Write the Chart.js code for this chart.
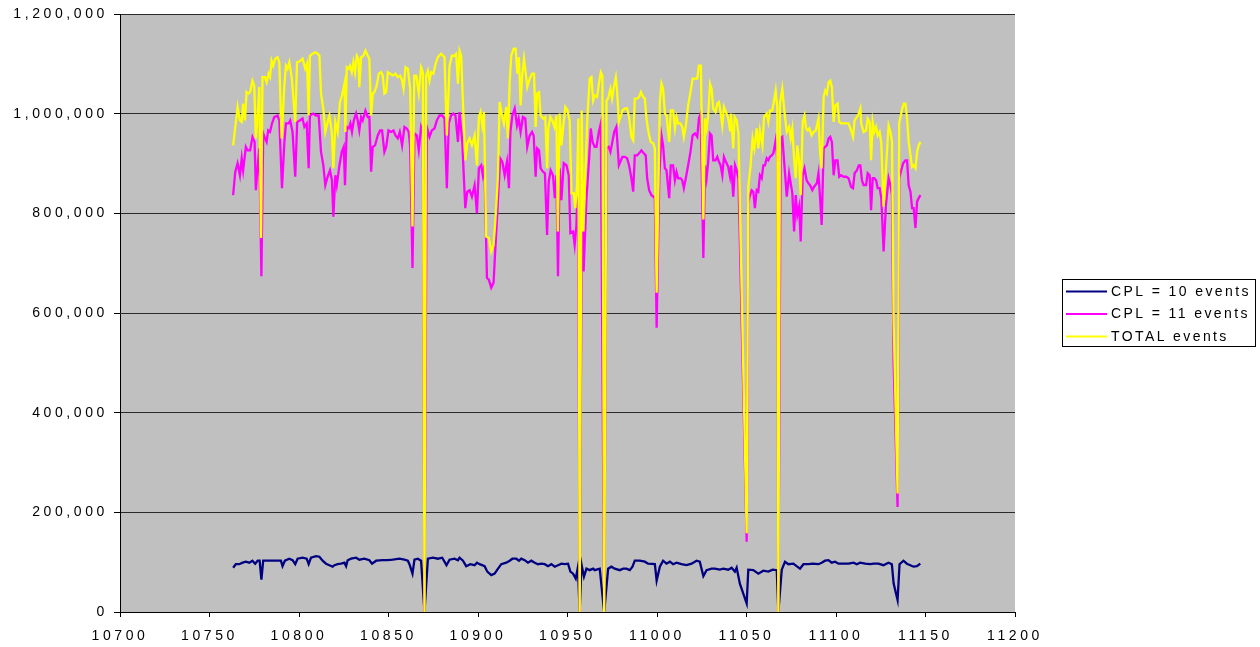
<!DOCTYPE html>
<html><head><meta charset="utf-8">
<script src="https://cdn.jsdelivr.net/npm/chart.js@4/dist/chart.umd.min.js"></script>
<style>html,body{margin:0;padding:0;background:#fff;overflow:hidden}#wrap{width:1260px;height:647px;position:relative}</style>
</head><body><div id="wrap"><canvas id="c" width="1260" height="647"></canvas></div>
<script>
const seriesLabels = ['CPL = 10 events', 'CPL = 11 events', 'TOTAL events'];
const seriesColors = ['#000080', '#FF00FF', '#FFFF00'];
const xTickValues = [10700, 10750, 10800, 10850, 10900, 10950, 11000, 11050, 11100, 11150, 11200];
const yTickValues = [0, 200000, 400000, 600000, 800000, 1000000, 1200000];

const totalDays = [10763.2,10765.1,10765.7,10767.0,10768.0,10768.8,10769.8,10770.7,10771.8,10772.7,
10774.0,10775.0,10775.9,10777.0,10777.8,10778.8,10779.6,10781.0,10781.9,10783.0,
10783.8,10784.7,10785.6,10786.7,10788.0,10789.0,10790.3,10791.8,10792.7,10793.6,
10794.6,10796.0,10797.9,10798.9,10800.2,10802.0,10803.5,10804.5,10805.4,10806.1,
10807.6,10809.1,10810.4,10811.4,10812.3,10813.6,10814.7,10816.0,10817.0,10818.3,
10819.2,10820.3,10821.6,10822.9,10824.0,10825.4,10825.9,10826.7,10827.8,10828.5,
10829.5,10830.4,10831.3,10832.3,10833.2,10833.7,10834.7,10836.0,10837.1,10838.4,
10839.3,10840.3,10841.2,10842.1,10843.4,10844.6,10845.9,10846.8,10847.7,10848.7,
10849.6,10850.9,10852.4,10853.9,10855.2,10856.5,10857.6,10858.4,10859.5,10860.8,
10862.1,10863.4,10864.4,10865.5,10866.9,10868.2,10869.2,10870.1,10871.0,10872.0,
10872.9,10873.8,10875.1,10876.3,10877.6,10879.4,10881.3,10882.6,10884.1,10885.4,
10886.9,10887.8,10888.8,10889.7,10890.6,10891.5,10892.9,10894.0,10895.3,10896.6,
10898.1,10899.4,10900.5,10901.4,10902.4,10903.3,10904.6,10906.1,10907.4,10908.7,
10909.8,10911.1,10912.1,10913.4,10914.5,10915.8,10916.7,10917.7,10918.6,10919.9,
10921.0,10922.0,10922.9,10923.8,10924.7,10925.7,10926.6,10927.5,10928.9,10930.2,
10931.3,10932.2,10933.0,10934.1,10935.0,10936.3,10937.6,10938.6,10939.3,10940.4,
10941.5,10942.7,10943.8,10944.6,10945.6,10946.6,10947.5,10948.8,10950.0,10951.2,
10952.2,10953.5,10954.4,10955.3,10956.1,10956.8,10957.9,10958.9,10960.0,10961.1,
10962.4,10963.4,10964.3,10965.2,10966.5,10967.7,10968.6,10969.5,10970.5,10971.8,
10972.7,10974.0,10974.9,10975.9,10977.0,10977.7,10978.7,10980.7,10982.0,10983.3,
10984.4,10985.7,10986.7,10987.6,10988.9,10990.0,10991.0,10992.3,10993.2,10994.1,
10995.4,10996.5,10997.9,10998.8,10999.8,11001.6,11002.5,11003.4,11004.4,11005.3,
11006.8,11007.7,11009.0,11010.0,11010.9,11011.8,11013.1,11014.1,11015.0,11016.1,
11017.4,11018.7,11019.9,11021.2,11022.5,11023.4,11024.5,11025.9,11026.8,11027.7,
11028.6,11029.6,11030.5,11031.4,11032.7,11033.7,11034.6,11035.5,11036.5,11037.4,
11038.5,11039.8,11040.8,11041.3,11042.6,11043.4,11044.5,11045.5,11050.1,11051.0,
11052.3,11053.4,11054.4,11055.7,11056.6,11057.5,11058.9,11059.8,11061.3,11062.2,
11063.1,11064.4,11065.4,11066.3,11067.2,11067.8,11068.7,11070.0,11071.2,11072.5,
11073.8,11074.7,11075.6,11076.6,11077.5,11078.4,11079.4,11080.3,11081.4,11082.4,
11083.3,11084.2,11085.1,11086.4,11087.4,11088.7,11090.2,11091.1,11092.0,11093.1,
11094.0,11094.9,11095.9,11096.8,11097.7,11098.7,11099.6,11100.9,11101.8,11102.8,
11104.3,11105.7,11107.0,11108.4,11109.5,11110.4,11111.7,11112.7,11113.6,11114.1,
11115.4,11116.8,11117.7,11118.8,11119.6,11120.5,11121.4,11122.4,11123.3,11124.4,
11125.3,11126.6,11129.4,11130.4,11131.3,11132.2,11134.4,11135.3,11137.0,11137.9,
11138.8,11139.7,11140.6,11141.6,11142.5,11143.4,11144.4,11145.3,11146.2,11147.2];
const totalEvents = [937000,994000,1014000,987000,984000,1021000,987000,1044000,1041000,1044000,
1067000,1057000,951000,1004000,1054000,751000,1074000,1074000,1064000,1081000,
1074000,1107000,1097000,1111000,1114000,1104000,951000,1057000,1097000,1091000,
1104000,1071000,984000,1104000,1105000,1111000,1091000,1101000,997000,1117000,
1121000,1124000,1121000,1117000,1041000,1011000,964000,984000,997000,964000,
891000,984000,964000,1024000,1037000,1061000,964000,1094000,1091000,1097000,
1084000,1104000,1084000,1117000,1111000,1054000,1114000,1117000,1127000,1117000,
1111000,997000,1041000,1044000,1057000,1081000,1084000,1077000,1041000,1044000,
1084000,1081000,1077000,1081000,1074000,1077000,1067000,1051000,1094000,1091000,
1051000,774000,1077000,1077000,1041000,1094000,1084000,0,1077000,1087000,
1067000,1084000,1081000,1101000,1114000,1121000,1114000,957000,1097000,1117000,
1117000,1121000,1061000,1127000,1117000,1031000,907000,941000,951000,937000,
957000,897000,994000,1004000,977000,1004000,754000,751000,724000,737000,
791000,871000,1024000,997000,981000,1014000,951000,1064000,1117000,1131000,
1131000,1081000,1114000,1017000,1077000,1111000,1084000,1054000,1071000,1081000,
1081000,974000,1041000,1044000,997000,991000,994000,891000,971000,994000,
987000,974000,997000,764000,1001000,937000,971000,1014000,1007000,987000,
841000,841000,811000,857000,991000,0,1007000,764000,884000,994000,
1071000,1074000,1027000,1037000,1034000,1064000,1084000,1077000,0,1027000,
1031000,1051000,1031000,1054000,1074000,1047000,984000,1007000,1011000,1011000,
994000,954000,947000,1031000,1031000,1034000,1044000,1034000,1031000,991000,
961000,944000,941000,931000,641000,1024000,1061000,1051000,1001000,997000,
944000,1007000,1007000,971000,994000,981000,981000,974000,954000,977000,
1017000,1044000,1071000,1071000,1071000,1097000,1097000,788000,991000,971000,
997000,1061000,1051000,1011000,1004000,1021000,1024000,1004000,977000,1014000,
1004000,991000,967000,1001000,931000,994000,987000,960000,158000,854000,
897000,951000,931000,971000,931000,967000,937000,994000,1001000,984000,
1007000,1007000,1027000,1047000,1011000,0,1021000,1051000,1004000,964000,
974000,951000,971000,911000,871000,937000,904000,837000,984000,997000,
971000,967000,971000,957000,964000,967000,991000,924000,891000,1034000,
1047000,1041000,1064000,1067000,1054000,984000,1017000,1021000,984000,981000,
981000,981000,981000,967000,954000,987000,994000,1001000,1011000,981000,
964000,967000,991000,984000,907000,984000,964000,974000,957000,964000,
941000,814000,977000,964000,944000,584000,238000,981000,1011000,1021000,
1021000,991000,944000,917000,894000,897000,891000,924000,937000,944000];

const cpl11Days = [10763.2,10764.4,10765.7,10767.0,10768.0,10768.8,10770.3,10771.3,10772.7,10774.0,
10775.2,10775.9,10777.0,10777.8,10779.0,10780.0,10781.0,10781.9,10782.8,10783.8,
10784.9,10786.2,10788.0,10789.0,10790.5,10791.8,10792.7,10794.2,10795.1,10796.4,
10797.9,10799.0,10800.5,10802.0,10803.0,10804.3,10805.4,10806.1,10808.0,10809.5,
10811.0,10812.3,10813.6,10814.7,10816.0,10817.3,10818.4,10819.2,10820.3,10821.1,
10822.6,10823.9,10825.0,10825.7,10826.7,10827.8,10828.7,10829.6,10830.6,10831.9,
10832.8,10833.7,10834.7,10835.6,10837.1,10838.4,10839.3,10840.3,10841.2,10842.5,
10844.0,10845.3,10846.4,10847.7,10848.7,10850.0,10851.5,10852.8,10853.9,10855.2,
10856.3,10857.6,10858.9,10860.2,10861.3,10862.1,10863.4,10864.5,10865.8,10866.9,
10868.2,10869.2,10870.1,10871.4,10872.9,10874.2,10875.7,10877.0,10878.5,10880.0,
10881.3,10882.6,10883.7,10885.0,10886.3,10887.4,10888.8,10889.7,10891.2,10892.9,
10894.0,10895.3,10896.6,10898.1,10899.4,10900.5,10901.8,10902.7,10903.6,10905.0,
10906.1,10907.4,10908.7,10909.8,10911.1,10912.4,10913.6,10914.9,10916.2,10917.3,
10918.1,10919.2,10920.5,10921.8,10922.7,10923.8,10925.1,10926.4,10927.5,10928.9,
10930.2,10931.1,10932.2,10933.0,10934.1,10935.0,10936.3,10937.4,10938.6,10939.5,
10940.6,10941.9,10942.9,10943.8,10944.7,10945.6,10946.6,10947.9,10949.4,10950.7,
10951.6,10953.1,10954.0,10955.0,10955.9,10956.8,10958.1,10959.0,10960.6,10962.1,
10963.0,10964.0,10965.2,10966.2,10967.5,10968.6,10970.5,10971.8,10973.0,10974.0,
10974.9,10976.1,10977.3,10978.7,10980.7,10982.0,10983.3,10984.4,10985.7,10986.7,
10987.6,10988.9,10990.0,10991.3,10992.6,10993.7,10994.5,10995.6,10996.9,10997.9,
10998.8,10999.8,11001.3,11002.5,11003.4,11004.4,11005.3,11006.8,11007.7,11009.0,
11010.0,11010.9,11011.8,11013.1,11014.1,11015.0,11016.1,11017.4,11018.7,11019.9,
11021.2,11022.5,11023.4,11024.4,11025.9,11026.8,11027.7,11028.6,11029.6,11030.5,
11031.4,11032.7,11033.7,11034.6,11035.5,11036.5,11037.4,11038.5,11039.8,11040.8,
11041.5,11042.6,11043.6,11044.5,11045.5,11050.1,11051.0,11052.0,11052.9,11053.8,
11054.7,11055.7,11056.6,11057.5,11058.5,11059.4,11060.3,11061.3,11062.2,11063.1,
11064.1,11065.0,11066.3,11067.2,11067.8,11069.1,11070.0,11071.2,11072.5,11073.8,
11074.7,11075.6,11076.6,11077.5,11078.4,11079.4,11080.3,11081.4,11082.4,11083.6,
11084.6,11085.5,11086.8,11087.8,11089.3,11090.2,11091.1,11092.0,11093.1,11094.0,
11094.9,11095.9,11096.8,11097.7,11098.7,11099.6,11100.9,11101.8,11102.8,11104.3,
11105.7,11107.0,11108.4,11109.5,11110.4,11111.7,11112.7,11113.6,11114.5,11115.4,
11116.8,11117.7,11118.8,11119.6,11120.5,11121.4,11122.4,11123.3,11124.4,11125.3,
11126.6,11127.9,11129.4,11130.4,11131.3,11132.2,11134.4,11135.3,11137.5,11138.8,
11139.7,11140.6,11141.6,11142.5,11143.4,11144.4,11145.3,11146.2,11147.2];
const cpl11Events = [837000,884000,901000,877000,911000,887000,934000,927000,927000,954000,
944000,847000,897000,931000,674000,961000,951000,944000,967000,964000,
981000,994000,997000,987000,851000,941000,981000,981000,987000,964000,
874000,984000,987000,991000,974000,981000,891000,997000,1001000,997000,
997000,924000,897000,857000,874000,887000,867000,794000,877000,857000,
897000,924000,934000,857000,974000,971000,981000,964000,987000,1001000,
987000,967000,994000,987000,1007000,994000,994000,884000,934000,937000,
957000,967000,967000,924000,934000,967000,964000,967000,957000,951000,
964000,937000,974000,971000,964000,934000,691000,961000,957000,927000,
974000,964000,0,974000,954000,967000,971000,987000,997000,997000,
991000,851000,981000,997000,1001000,997000,944000,1004000,944000,811000,
844000,847000,834000,857000,801000,891000,897000,877000,897000,671000,
667000,651000,661000,737000,824000,911000,904000,877000,904000,851000,
964000,997000,1011000,977000,991000,964000,994000,991000,934000,957000,
964000,957000,874000,931000,927000,891000,884000,881000,757000,864000,
887000,877000,831000,877000,674000,891000,827000,901000,897000,877000,
761000,764000,737000,777000,884000,0,887000,684000,831000,911000,
971000,944000,934000,934000,964000,981000,0,931000,934000,924000,
941000,964000,974000,897000,914000,914000,911000,897000,871000,844000,
917000,917000,921000,927000,921000,917000,871000,847000,837000,834000,
831000,571000,877000,957000,937000,891000,887000,831000,897000,897000,
867000,884000,871000,871000,867000,851000,871000,897000,924000,957000,
961000,954000,991000,1001000,711000,897000,871000,904000,961000,957000,
907000,907000,914000,904000,897000,877000,914000,904000,894000,874000,
897000,834000,897000,887000,870000,141000,824000,837000,847000,844000,
811000,847000,844000,877000,871000,897000,897000,911000,907000,914000,
917000,921000,947000,911000,0,951000,954000,897000,834000,881000,
861000,841000,764000,837000,797000,814000,744000,877000,891000,867000,
861000,857000,847000,854000,861000,881000,831000,777000,931000,934000,
937000,951000,954000,944000,877000,907000,907000,874000,877000,874000,
874000,871000,854000,851000,881000,887000,897000,897000,867000,857000,
857000,881000,877000,807000,871000,871000,867000,851000,851000,831000,
724000,817000,871000,857000,837000,500000,211000,871000,901000,907000,
907000,857000,844000,811000,811000,771000,824000,831000,837000];

const cpl10Days = [10763.2,10764.7,10766.6,10768.5,10770.3,10772.2,10774.0,10775.5,10776.9,10778.0,
10779.0,10780.0,10783.4,10787.1,10789.9,10790.8,10792.1,10794.6,10796.4,10797.9,
10799.2,10802.0,10804.3,10805.4,10806.7,10809.5,10811.4,10813.2,10815.1,10817.0,
10818.8,10819.8,10821.6,10823.5,10825.4,10826.3,10827.2,10829.1,10831.9,10833.7,
10836.5,10839.3,10840.8,10843.1,10846.8,10849.6,10852.4,10856.1,10858.9,10860.8,
10861.7,10863.4,10864.5,10866.4,10868.2,10870.1,10872.0,10874.8,10877.6,10880.0,
10882.4,10884.1,10886.9,10888.8,10889.7,10891.6,10893.4,10895.7,10898.1,10899.4,
10900.9,10903.7,10905.2,10907.4,10909.3,10910.8,10913.0,10915.8,10917.7,10919.2,
10921.4,10922.9,10924.2,10926.1,10927.9,10929.8,10931.7,10933.5,10935.4,10937.3,
10939.1,10941.0,10942.9,10944.7,10946.6,10948.5,10950.3,10951.6,10953.1,10954.6,
10955.8,10956.8,10957.8,10959.2,10960.6,10962.4,10964.3,10965.2,10968.0,10970.5,
10972.7,10974.5,10976.4,10979.2,10981.1,10982.9,10984.8,10986.3,10987.6,10990.4,
10993.2,10995.0,10998.8,10999.8,11001.6,11003.4,11005.3,11007.2,11009.0,11010.9,
11013.7,11016.5,11019.3,11022.1,11023.9,11025.9,11027.7,11030.5,11032.3,11035.1,
11037.0,11039.8,11041.7,11043.5,11044.5,11046.3,11050.1,11051.0,11053.8,11056.6,
11059.4,11062.2,11064.6,11066.9,11067.8,11069.7,11071.5,11073.4,11076.2,11078.0,
11079.9,11081.8,11084.6,11087.0,11090.2,11092.0,11093.9,11095.8,11097.6,11099.5,
11101.4,11104.2,11107.0,11109.8,11111.6,11113.5,11116.3,11119.1,11121.0,11123.7,
11126.5,11129.3,11131.2,11132.2,11134.4,11135.5,11137.7,11139.6,11141.5,11143.3,
11145.2,11147.1];
const cpl10Events = [89000,96000,96000,99000,101000,99000,103000,97000,103000,103000,
65000,103000,103000,103000,103000,92000,103000,107000,104000,96000,
107000,109000,107000,96000,109000,112000,111000,103000,97000,94000,
91000,94000,96000,97000,99000,92000,104000,107000,109000,105000,
107000,104000,97000,103000,104000,104000,105000,107000,105000,103000,
96000,77000,105000,107000,103000,0,107000,109000,107000,109000,
94000,105000,107000,104000,109000,103000,92000,96000,94000,99000,
96000,92000,81000,74000,77000,85000,96000,99000,103000,107000,
107000,103000,107000,104000,99000,103000,99000,96000,97000,96000,
92000,96000,91000,94000,97000,96000,97000,81000,77000,67000,
90000,0,96000,71000,87000,84000,87000,84000,87000,0,
87000,91000,87000,84000,87000,87000,84000,91000,103000,103000,
101000,97000,96000,63000,91000,103000,97000,101000,96000,99000,
96000,94000,97000,103000,101000,72000,84000,87000,87000,85000,
87000,85000,89000,81000,89000,57000,17000,85000,84000,77000,
83000,81000,85000,84000,0,85000,101000,96000,97000,92000,
87000,96000,96000,97000,96000,99000,103000,104000,99000,101000,
97000,97000,97000,99000,96000,99000,97000,96000,97000,97000,
94000,99000,96000,57000,24000,96000,103000,97000,94000,91000,
92000,97000];

function pairs(days, vals) { return days.map((d, i) => ({ x: d, y: vals[i] })); }

const FONT = '"Liberation Sans", Arial, Helvetica, sans-serif';

const plotPlugin = {
  id: 'plotDecor',
  beforeDraw(chart) {
    const { ctx, chartArea: a } = chart;
    ctx.save();
    ctx.fillStyle = '#C0C0C0';
    ctx.fillRect(a.left, a.top, a.right - a.left, a.bottom - a.top);
    ctx.restore();
    ctx.letterSpacing = '3.6px';
  },
  afterDraw(chart) {
    const ctx = chart.ctx;
    ctx.save();
    ctx.letterSpacing = '2.4px';
    const bx = 1062, by = 279, bw = 193, bh = 67;
    ctx.fillStyle = '#FFFFFF';
    ctx.fillRect(bx, by, bw, bh);
    ctx.strokeStyle = '#000000';
    ctx.lineWidth = 1;
    ctx.strokeRect(bx + 0.5, by + 0.5, bw, bh);
    const rows = [291.5, 314, 336.5];
    chart.data.datasets.forEach((ds, i) => {
      ctx.strokeStyle = ds.borderColor;
      ctx.lineWidth = 2;
      ctx.beginPath();
      ctx.moveTo(1066, rows[i]);
      ctx.lineTo(1107, rows[i]);
      ctx.stroke();
      ctx.fillStyle = '#000000';
      ctx.font = '14px ' + FONT;
      ctx.textBaseline = 'middle';
      ctx.textAlign = 'left';
      ctx.fillText(ds.label, 1111, rows[i] + 0.5);
    });
    ctx.restore();
  }
};

new Chart(document.getElementById('c'), {
  type: 'line',
  data: {
    datasets: [
      { label: seriesLabels[0], data: pairs(cpl10Days, cpl10Events), borderColor: seriesColors[0], backgroundColor: seriesColors[0], order: 3 },
      { label: seriesLabels[1], data: pairs(cpl11Days, cpl11Events), borderColor: seriesColors[1], backgroundColor: seriesColors[1], order: 2 },
      { label: seriesLabels[2], data: pairs(totalDays, totalEvents), borderColor: seriesColors[2], backgroundColor: seriesColors[2], order: 1 }
    ]
  },
  options: {
    responsive: false,
    animation: false,
    devicePixelRatio: 1,
    layout: { padding: { top: 12, right: 245, bottom: 0, left: 0 } },
    plugins: { legend: { display: false }, tooltip: { enabled: false } },
    elements: { point: { radius: 0, hoverRadius: 0 }, line: { tension: 0, borderWidth: 2.3, fill: false } },
    scales: {
      x: {
        type: 'linear', min: 10700, max: 11200,
        afterBuildTicks: (s) => { s.ticks = xTickValues.map(v => ({ value: v })); },
        afterFit: (s) => { s.height = 35; },
        grid: { drawOnChartArea: false, drawTicks: true, tickLength: 5, tickColor: '#000000', color: '#000000' },
        border: { display: true, color: '#000000', width: 1 },
        ticks: { color: '#000000', font: { family: FONT, size: 14 }, padding: 11, maxRotation: 0, autoSkip: false, callback: (v) => String(v) }
      },
      y: {
        min: 0, max: 1200000,
        afterBuildTicks: (s) => { s.ticks = yTickValues.map(v => ({ value: v })); },
        afterFit: (s) => { s.width = 120; },
        grid: { color: '#2a2a2a', lineWidth: 1, drawTicks: true, tickLength: 6, tickColor: '#000000' },
        border: { display: true, color: '#000000', width: 1 },
        ticks: { color: '#000000', font: { family: FONT, size: 14 }, padding: 6, callback: (v) => Number(v).toLocaleString('en-US') }
      }
    }
  },
  plugins: [plotPlugin]
});
</script>
</body></html>
